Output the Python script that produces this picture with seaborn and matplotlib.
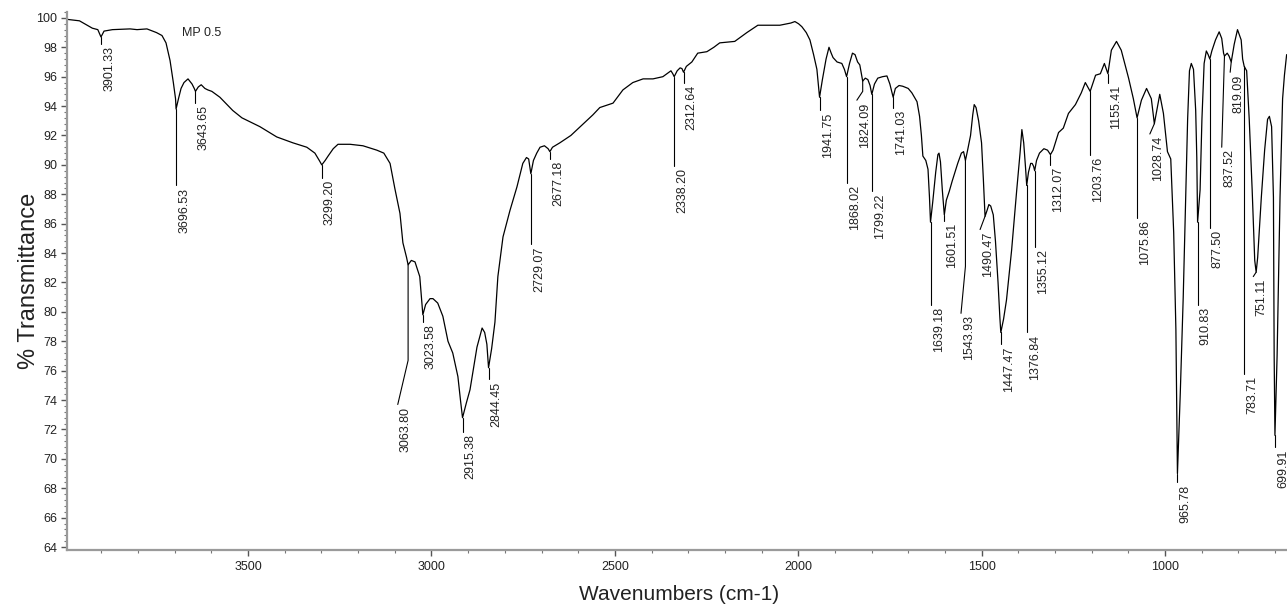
import numpy as np
import pandas as pd
import matplotlib
matplotlib.use("Agg")
import matplotlib.pyplot as plt
from matplotlib.ticker import MultipleLocator, FixedLocator
import seaborn as sns

# ---- spectrum (wavenumber in cm-1, % transmittance) ----
wavenumber = [
    3994, 3960, 3925, 3910, 3901.33, 3893, 3870, 3822, 3803, 3776, 3750, 3735,
    3724, 3713, 3704, 3698, 3696.53, 3690, 3683, 3675, 3664, 3653, 3647, 3643.65,
    3636, 3628, 3618, 3610, 3599, 3577, 3542, 3517, 3468, 3422, 3378, 3340,
    3318, 3306, 3299.20, 3290, 3282, 3268, 3255, 3222, 3187, 3149, 3130, 3113,
    3100, 3086, 3078, 3068, 3063.80, 3055, 3045, 3032, 3023.58, 3016, 3004, 2996,
    2983, 2969, 2955, 2942, 2928, 2921, 2915.38, 2905, 2895, 2876, 2862, 2855,
    2849, 2844.45, 2836, 2827, 2819, 2805, 2786, 2767, 2751, 2741, 2735, 2729.07,
    2722, 2713, 2704, 2692, 2682, 2677.18, 2670, 2650, 2620, 2590, 2560, 2541,
    2505, 2478, 2451, 2423, 2396, 2369, 2347, 2342, 2338.20, 2330, 2322, 2317,
    2312.64, 2305, 2290, 2274, 2249, 2230, 2214, 2173, 2140, 2110, 2050, 2020,
    2009, 1999, 1990, 1978, 1968, 1958, 1949, 1941.75, 1934, 1924, 1916, 1910,
    1905, 1894, 1881, 1874, 1868.02, 1860, 1852, 1845, 1838, 1832, 1824.09, 1817,
    1810, 1804, 1799.22, 1792, 1783, 1770, 1758, 1750, 1741.03, 1735, 1725, 1715,
    1700, 1690, 1676, 1669, 1664, 1660, 1652, 1646, 1642, 1639.18, 1633, 1625,
    1619, 1616, 1612, 1607, 1601.51, 1596, 1588, 1580, 1565, 1555, 1549, 1543.93,
    1538, 1530, 1524, 1520, 1515, 1508, 1500, 1495, 1490.47, 1485, 1480, 1475,
    1468, 1462, 1455, 1450, 1447.47, 1440, 1432, 1418, 1404, 1395, 1390, 1385,
    1380, 1376.84, 1372, 1366, 1362, 1358, 1355.12, 1350, 1342, 1330, 1320, 1312.07,
    1305, 1290, 1277, 1263, 1244, 1228, 1217, 1203.76, 1189, 1176, 1165, 1155.41,
    1146, 1132, 1119, 1099, 1086, 1075.86, 1064, 1050, 1037, 1028.74, 1014, 1004,
    993, 984, 976, 970, 965.78, 958, 950, 943, 938, 933, 928, 922,
    916, 913, 910.83, 904, 899, 893, 887, 882, 877.50, 872, 862, 852,
    845, 840, 837.52, 830, 825, 819.09, 811, 802, 792, 788, 783.71, 777,
    770, 762, 755, 751.11, 747, 737, 728, 720, 715, 709, 704, 702,
    699.91, 694, 686, 679, 674, 668,
]
transmittance = [
    99.9, 99.8, 99.3, 99.2, 98.7, 99.1, 99.2, 99.25, 99.2, 99.25, 99.0, 98.8,
    98.3, 97.1, 95.6, 94.5, 93.8, 94.5, 95.2, 95.6, 95.85, 95.5, 95.2, 95.0,
    95.3, 95.45, 95.2, 95.1, 95.0, 94.6, 93.7, 93.2, 92.6, 91.9, 91.5, 91.2,
    90.8, 90.3, 90.0, 90.3, 90.6, 91.1, 91.4, 91.4, 91.3, 91.0, 90.8, 90.1,
    88.4, 86.7, 84.7, 83.7, 83.2, 83.5, 83.4, 82.4, 79.8, 80.5, 80.9, 80.9,
    80.6, 79.7, 78.0, 77.2, 75.6, 74.0, 72.8, 73.8, 74.7, 77.6, 78.9, 78.6,
    77.8, 76.2, 77.5, 79.3, 82.4, 85.1, 86.9, 88.5, 90.1, 90.5, 90.4, 89.4,
    90.3, 90.8, 91.2, 91.3, 91.1, 90.9, 91.2, 91.5, 92.0, 92.7, 93.4, 93.9,
    94.2, 95.1, 95.6, 95.85, 95.85, 96.0, 96.4, 96.2, 96.0, 96.4, 96.6, 96.55,
    96.3, 96.7, 97.0, 97.6, 97.7, 98.0, 98.3, 98.4, 99.0, 99.5, 99.5, 99.65,
    99.75, 99.6, 99.4, 99.0, 98.5, 97.5, 96.5, 94.6, 95.8, 97.2, 98.0, 97.6,
    97.3, 97.0, 96.9, 96.5, 96.0, 96.9, 97.6, 97.5, 97.0, 96.8, 95.7, 95.9,
    95.8, 95.4, 94.8, 95.5, 95.9, 96.0, 96.05, 95.5, 94.6, 95.2, 95.4, 95.35,
    95.2, 94.9, 94.3, 93.3, 92.0, 90.6, 90.3, 89.7, 87.8, 86.1, 87.5, 89.5,
    90.7, 90.8, 90.2, 88.3, 86.6, 87.6, 88.2, 88.9, 90.1, 90.8, 90.9, 90.3,
    91.0, 92.0, 93.4, 94.1, 93.9, 93.0, 91.5, 89.0, 86.5, 86.9, 87.3, 87.2,
    86.6, 84.8, 82.0, 79.6, 78.6, 79.5, 80.8, 84.2, 88.3, 90.8, 92.4, 91.5,
    89.8, 88.6, 89.5, 90.1, 90.1, 89.9, 89.6, 90.3, 90.8, 91.1, 91.0, 90.7,
    91.0, 92.2, 92.5, 93.5, 94.1, 94.9, 95.6, 95.0, 96.1, 96.2, 96.9, 96.2,
    97.8, 98.4, 97.8, 95.9, 94.5, 93.2, 94.4, 95.2, 94.5, 92.8, 94.8, 93.5,
    90.9, 90.4, 85.4, 78.8, 69.0, 74.5, 81.0, 88.0, 93.1, 96.4, 96.9, 96.5,
    93.7, 90.5, 86.1, 88.3, 93.1, 96.9, 97.75, 97.5, 97.2, 97.75, 98.5, 99.05,
    98.6, 97.6, 97.4, 97.6, 97.4, 97.0, 98.2, 99.2, 98.5, 97.2, 96.7, 96.4,
    93.1, 88.3, 83.5, 82.7, 83.7, 87.8, 91.0, 93.1, 93.3, 92.6, 87.8, 77.0,
    71.6, 77.0, 87.8, 94.5, 96.1, 97.5,
]

# ---- labelled peak positions (cm-1) ----
peak_wavenumbers = [
    3901.33, 3696.53, 3643.65, 3299.20, 3063.80, 3023.58, 2915.38, 2844.45,
    2729.07, 2677.18, 2338.20, 2312.64, 1941.75, 1868.02, 1824.09, 1799.22,
    1741.03, 1639.18, 1601.51, 1543.93, 1490.47, 1447.47, 1376.84, 1355.12,
    1312.07, 1203.76, 1155.41, 1075.86, 1028.74, 965.78, 910.83, 877.50,
    837.52, 819.09, 783.71, 751.11, 699.91,
]

sample_name = "MP 0.5"
x_title = "Wavenumbers (cm-1)"
y_title = "% Transmittance"
x_tick_values = [3500, 3000, 2500, 2000, 1500, 1000]
y_tick_values = list(range(64, 101, 2))

# leader layout per peak: (end of vertical stroke, label x or None, label y or None)
leader_layout = [
    (98.2, None, None), (88.6, None, None), (94.2, None, None), (89.1, None, None),
    (76.7, 3092, 73.7), (79.3, None, None), (71.8, None, None), (75.4, None, None),
    (84.6, None, None), (90.4, None, None), (89.9, None, None), (95.6, None, None),
    (93.7, None, None), (88.8, None, None), (95.0, 1840, 94.4), (88.2, None, None),
    (93.9, None, None), (80.5, None, None), (86.2, None, None), (83.1, 1556, 79.9),
    (86.5, 1504, 85.6), (77.8, None, None), (78.6, None, None), (84.4, None, None),
    (90.0, None, None), (90.7, None, None), (95.6, None, None), (86.4, None, None),
    (92.8, 1041, 92.1), (68.4, None, None), (80.5, None, None), (85.7, None, None),
    (97.4, 845, 91.2), (97.0, 822, 96.3), (75.8, None, None), (82.7, 759, 82.4),
    (70.8, None, None),
]

sns.set_theme(style="white")
plt.rcParams["font.family"] = ["Liberation Sans", "DejaVu Sans"]

spectrum = pd.DataFrame({"wavenumber": wavenumber, "transmittance": transmittance})

fig = plt.figure(figsize=(12.87, 6.09), dpi=100)
ax = fig.add_axes([67 / 1287, 1 - 550 / 609, 1 - 67 / 1287, 538 / 609])

sns.lineplot(data=spectrum, x="wavenumber", y="transmittance", sort=False,
             estimator=None, color="black", linewidth=0.9, ax=ax)

ax.set_xlim(3994, 667)
ax.set_ylim(63.8, 100.4)

# peak markers: leader line from the band minimum down to a rotated label
for wn, (knee, lab_x, lab_y) in zip(peak_wavenumbers, leader_layout):
    tip = float(np.interp(wn, wavenumber[::-1], transmittance[::-1]))
    if lab_x is None:
        xs, ys = [wn, wn], [tip, knee]
        tx, ty = wn, knee
    else:
        xs, ys = [wn, wn, lab_x], [tip, knee, lab_y]
        tx, ty = lab_x, lab_y
    ax.plot(xs, ys, color="black", linewidth=0.8, clip_on=False)
    ax.annotate(f"{wn:.2f}", xy=(tx, ty), xytext=(1.5, -1.5),
                textcoords="offset points", rotation=90, ha="left", va="top",
                fontsize=9, color="#222222", annotation_clip=False)

ax.text(3681, 98.98, sample_name, fontsize=9, color="#222222", va="center", ha="left")

# axes cosmetics
for side in ("top", "right"):
    ax.spines[side].set_visible(False)
for side in ("left", "bottom"):
    ax.spines[side].set_color("#9a9a9a")
    ax.spines[side].set_linewidth(1.6)

ax.xaxis.set_major_locator(FixedLocator(x_tick_values))
ax.xaxis.set_minor_locator(MultipleLocator(100))
ax.yaxis.set_major_locator(FixedLocator(y_tick_values))
ax.yaxis.set_minor_locator(MultipleLocator(0.4))
ax.set_xticklabels([str(v) for v in x_tick_values])
ax.set_yticklabels([str(v) for v in y_tick_values])
ax.tick_params(axis="both", which="major", direction="out", length=4, width=1,
               color="#555555", labelsize=9, labelcolor="#222222", pad=3,
               bottom=True, left=True)
ax.tick_params(axis="both", which="minor", direction="out", length=2, width=0.8,
               color="#777777", bottom=True, left=True)
ax.tick_params(axis="x", which="major", pad=4)

ax.set_xlabel(x_title, fontsize=15, color="#222222")
ax.set_ylabel(y_title, fontsize=17, color="#222222")
ax.xaxis.set_label_coords(0.502, -0.065)
ax.yaxis.set_label_coords(-0.022, 0.5)
ax.grid(False)

fig.savefig("out.png", dpi=100)
